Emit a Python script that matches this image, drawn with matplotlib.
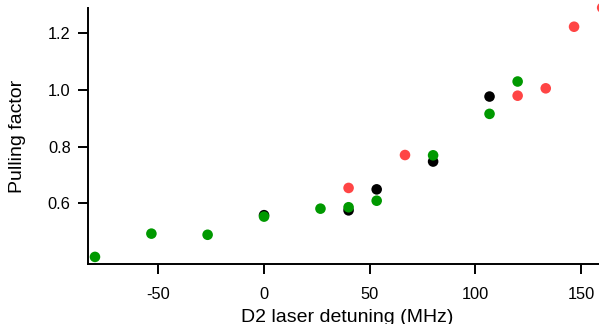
import matplotlib
matplotlib.use('Agg')
import matplotlib.pyplot as plt

# detuning (MHz) and pulling factor for each data set
red_x = [40.0, 66.7, 120.0, 133.3, 146.7, 160.0]
red_y = [0.654, 0.770, 0.979, 1.005, 1.222, 1.289]

black_x = [0.0, 40.0, 53.3, 80.0, 106.7]
black_y = [0.558, 0.575, 0.649, 0.747, 0.976]

green_x = [-80.0, -53.3, -26.7, 0.0, 26.7, 40.0, 53.3, 80.0, 106.7, 120.0]
green_y = [0.411, 0.493, 0.489, 0.553, 0.581, 0.586, 0.609, 0.769, 0.915, 1.029]

x_ticks = [-50, 0, 50, 100, 150]
y_ticks = [0.6, 0.8, 1.0, 1.2]

plt.rcParams['font.family'] = ['Liberation Sans', 'DejaVu Sans']
plt.rcParams['axes.unicode_minus'] = False

fig = plt.figure(figsize=(5.99, 3.24), dpi=100)
ax = fig.add_axes([88 / 599, 60 / 324, 511 / 599, 256 / 324])

ms = 58
ax.scatter(red_x, red_y, s=ms, color='#ff4545', edgecolors='none', zorder=3, clip_on=False)
ax.scatter(black_x, black_y, s=ms, color='black', edgecolors='none', zorder=4, clip_on=False)
ax.scatter(green_x, green_y, s=ms, color='#009900', edgecolors='none', zorder=5, clip_on=False)

ax.set_xlim(-83.3, 158.5)
ax.set_ylim(0.386, 1.288)
ax.set_xticks(x_ticks)
ax.set_yticks(y_ticks)
ax.set_yticklabels([f'{v:.1f}' for v in y_ticks])

for side in ['top', 'right']:
    ax.spines[side].set_visible(False)
for side in ['left', 'bottom']:
    ax.spines[side].set_linewidth(1.4)

ax.tick_params(direction='out', length=7.5, width=1.4, labelsize=11.8)
ax.tick_params(axis='x', pad=9)
ax.tick_params(axis='y', pad=5)

ax.set_xlabel('D2 laser detuning (MHz)', fontsize=14)
ax.set_ylabel('Pulling factor', fontsize=14)
ax.xaxis.set_label_coords(0.508, -0.175)
ax.yaxis.set_label_coords(-0.121, 0.5)

fig.savefig('out.png', dpi=100)
